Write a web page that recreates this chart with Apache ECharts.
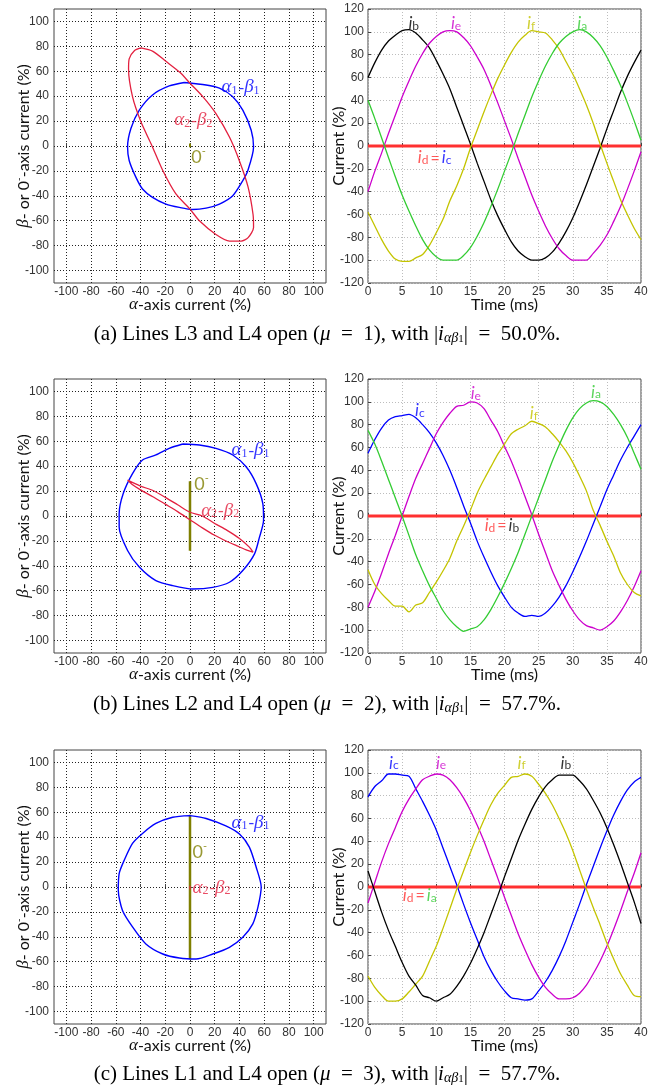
<!DOCTYPE html>
<html><head><meta charset="utf-8">
<script src="https://cdn.jsdelivr.net/npm/echarts@6/dist/echarts.min.js"></script>
<style>html,body{margin:0;padding:0;background:#fff}#c{width:654px;height:1088px}</style>
</head><body><div id="c"></div>
<script>
// ---------- tick labels ----------
const spaceTicks = [-100, -80, -60, -40, -20, 0, 20, 40, 60, 80, 100];
const timeMs = [0,1,2,3,4,5,6,7,8,9,10,11,12,13,14,15,16,17,18,19,20,21,22,23,24,25,26,27,28,29,30,31,32,33,34,35,36,37,38,39,40];

// ---------- (a) Lines L3 and L4 open ----------
const aAlpha1 = [-4.6, 13, 23.8, 34.6, 42.7, 49.5, 51.4, 46.8, 42.7, 34.6, 23.8, 13, 2.2, -8.6, -19.5, -30.3, -38.4, -43.8, -49.2, -50.5, -47.8, -41, -30.3, -16.8, -4.6];
const aBeta1  = [51, 49, 46.4, 39.6, 28.8, 12.7, -0.8, -19.7, -27.8, -39.9, -46.6, -49.9, -51, -49.3, -46.6, -41.2, -34.5, -25, -11.6, -0.8, 14, 28.8, 41, 48.2, 51];
const aAlpha2 = [-39.7, -30, -19.5, -8, 0, 10, 21, 32, 40, 47, 51, 51.4, 47, 41.4, 32, 21, 7.6, 0, -11.4, -22, -31.6, -39.7, -46.5, -49.7, -49.2, -45, -39.7];
const aBeta2  = [78.7, 76, 68, 59, 50.4, 40, 26, 7, -12, -33, -55, -65.5, -73.6, -76.3, -76.3, -71, -60, -50.7, -38.5, -19.7, 2, 19.4, 39.6, 62, 70, 76.5, 78.7];
const aZeroX = [0, 0];
const aZeroY = [-1, 2];
const aIb = [60,73,84,92,97,101,102,99,93,86,75,63,50,34,18,2,-15,-31,-47,-61,-73,-84,-92,-97,-100,-100,-98,-93,-85,-75,-63,-49,-34,-18,-2,15,31,47,61,73,84];
const aIe = [-40,-22,-6,11,27,43,57,70,81,90,96,100,101,100,95,88,78,67,53,38,22,6,-11,-27,-43,-57,-70,-81,-90,-96,-100,-100,-100,-94,-87,-78,-66,-53,-38,-22,-5];
const aIf = [-58,-70,-82,-92,-99,-101,-101,-98,-95,-87,-76,-64,-48,-35,-20,-2,14,30,45,59,71,82,91,97,101,100,99,93,85,74,63,50,36,20,2,-15,-31,-47,-60,-72,-82];
const aIa = [40,24,7,-10,-27,-43,-57,-70,-82,-91,-97,-100,-100,-100,-96,-89,-79,-67,-53,-38,-22,-6,11,27,43,57,70,81,90,96,100,102,100,95,88,78,66,53,38,22,5];

// ---------- (b) Lines L2 and L4 open ----------
const bAlpha1 = [-5.9, 7.6, 21, 34.6, 45.4, 53.5, 58.9, 59.5, 56.2, 52.2, 42.7, 31.9, 18.4, 2.2, -14, -27.6, -41, -50.5, -57.3, -57.3, -54, -46.5, -38.4, -27.6, -16.8, -5.9];
const bBeta1  = [57.8, 57, 54.3, 49, 39.5, 26, 10, -3.5, -17, -30.4, -43.8, -53.2, -57.3, -58.6, -55.9, -51.9, -41, -27.7, -8.9, 1.9, 18, 34, 45, 49, 54.3, 57.8];
const bAlpha2 = [-50.5, -40, -30, -20, -10, 0, 10, 20, 30, 40, 48, 51, 45, 38, 30, 20, 10, 0, -10, -20, -30, -40, -47, -50.5];
const bBeta2  = [28.8, 24, 20.5, 15, 9, 3, 0, -6, -11.5, -18, -25, -29, -27, -24, -20.5, -15.5, -9.5, -3, 3.5, 9.5, 15.5, 21, 25.5, 28.8];
const bZeroX = [0, 0];
const bZeroY = [-28, 28];
const bIc = [55,67,77,84,87,88,89,86,80,73,64,53,40,25,9,-6,-22,-36,-49,-61,-71,-80,-85,-88,-87,-88,-85,-79,-71,-61,-49,-36,-22,-7,8,23,36,49,60,70,80];
const bIe = [-80,-66,-50,-33,-17,0,17,33,46,59,72,82,90,96,97,100,99,94,84,74,61,48,33,17,1,-16,-32,-48,-61,-73,-83,-91,-96,-98,-100,-97,-92,-84,-74,-62,-48];
const bIf = [-47,-60,-68,-74,-79,-79,-84,-78,-76,-67,-58,-48,-37,-22,-9,5,20,32,43,54,63,72,76,79,83,81,78,72,65,57,47,35,22,5,-8,-22,-35,-50,-60,-67,-70];
const bIa = [75,63,48,32,16,0,-17,-34,-48,-61,-72,-83,-91,-97,-101,-99,-97,-91,-82,-71,-59,-46,-32,-16,0,16,32,48,62,75,86,94,99,101,100,96,89,80,69,55,41];

// ---------- (c) Lines L1 and L4 open ----------
const cAlpha1 = [0, 13, 29, 40, 48, 53.5, 57.6, 55, 50.8, 42.7, 31.9, 18.4, 4.9, -8.6, -22, -35.7, -46.5, -54.6, -58, -57.3, -53.2, -46.5, -38.4, -27.6, -14, 0];
const cBeta1  = [57.3, 55, 49, 42.5, 32, 16, 0, -16, -29.6, -40.3, -48.4, -53.8, -57.8, -57, -53.8, -45.7, -32, -18.8, -2.7, 10.8, 21.5, 35, 43, 51, 56, 57.3];
const cAlpha2 = [0, 0];
const cBeta2  = [-2, 1];
const cZeroX = [0, 0];
const cZeroY = [-58, 58];
const cIc = [79,88,93,99,99,98,97,86,75,63,50,34,18,2,-15,-31,-46,-61,-73,-83,-91,-97,-98,-99,-98,-91,-83,-73,-61,-47,-31,-15,2,18,34,49,63,75,85,92,96];
const cIe = [-14,4,22,38,52,66,77,86,94,97,99,98,94,87,78,67,54,40,24,8,-9,-25,-41,-55,-68,-79,-88,-94,-98,-98,-97,-93,-86,-76,-65,-52,-37,-21,-4,12,30];
const cIf = [-78,-88,-95,-100,-100,-98,-92,-85,-78,-65,-52,-36,-19,-2,14,30,45,59,72,82,89,96,97,99,97,90,82,72,60,47,32,15,-2,-18,-33,-49,-63,-76,-86,-95,-96];
const cIb = [14,-4,-22,-38,-52,-66,-78,-86,-95,-97,-100,-97,-94,-87,-78,-67,-54,-40,-24,-8,9,25,41,55,68,79,88,94,98,98,98,93,86,76,65,52,37,21,4,-13,-32];

// i_d is zero over the whole window
const idTime = [0, 40];
const idVal = [0, 0];

const captions = [
  '{r|(a) Lines L3 and L4 open (}{it|μ}{r|  =  1), with |}{it|i}{sub|αβ}{sub2|1}{r||  =  50.0%.}',
  '{r|(b) Lines L2 and L4 open (}{it|μ}{r|  =  2), with |}{it|i}{sub|αβ}{sub2|1}{r||  =  57.7%.}',
  '{r|(c) Lines L1 and L4 open (}{it|μ}{r|  =  3), with |}{it|i}{sub|αβ}{sub2|1}{r||  =  57.7%.}'
];

// ---------- styling ----------
const C = {blue:'#0000ff', magenta:'#cc00cc', yellow:'#c4c400', green:'#33cc33', black:'#000000',
           red:'#ff3030', crimson:'#e3203f', olive:'#7f7f00'};
const ROWS = [9, 379, 750];
const CAP_TOP = [321, 691, 1061];
const tickFont = {fontFamily:'Liberation Sans, Arial, sans-serif', fontSize:12, color:'#333'};
const nameRich = {
  n:{fontFamily:'Lato, sans-serif', fontSize:16, color:'#111', lineHeight:18, verticalAlign:'bottom'},
  g:{fontFamily:'Liberation Serif, serif', fontStyle:'italic', fontSize:17, color:'#111', lineHeight:18, verticalAlign:'bottom'},
  sup:{fontFamily:'Lato, sans-serif', fontSize:10, color:'#111', lineHeight:10, verticalAlign:'top'}
};
function tok(color){
  return [
    {fontFamily:'Lato, sans-serif', fontStyle:'italic', fontSize:17, lineHeight:18, verticalAlign:'bottom', color:color},
    {fontFamily:'Lato, sans-serif', fontSize:12, lineHeight:10, verticalAlign:'bottom', color:color}
  ];
}
const annRich = {};
[['K',C.black],['B',C.blue],['M',C.magenta],['Y',C.yellow],['G',C.green],['R',C.red]].forEach(([k,c])=>{
  const t = tok(c); annRich['i'+k]=t[0]; annRich['s'+k]=t[1];
  annRich['e'+k] = {fontFamily:'Lato, sans-serif', fontSize:16, lineHeight:18, verticalAlign:'bottom', color:c, padding:[0,2,0,2]};
});
function mathTok(color){
  return {
    m:{fontFamily:'Liberation Serif, serif', fontStyle:'italic', fontSize:19, lineHeight:20, verticalAlign:'bottom', color:color},
    d:{fontFamily:'Liberation Serif, serif', fontSize:17, lineHeight:20, verticalAlign:'bottom', color:color},
    s:{fontFamily:'Liberation Serif, serif', fontSize:12, lineHeight:10, verticalAlign:'bottom', color:color, padding:[0,1,0,0]}
  };
}
const zeroRich = {
  z:{fontFamily:'Lato, sans-serif', fontSize:18, lineHeight:20, verticalAlign:'bottom', color:C.olive},
  zs:{fontFamily:'Lato, sans-serif', fontSize:11, lineHeight:10, verticalAlign:'top', color:C.olive}
};

const grids=[], xAxes=[], yAxes=[], series=[];

function pairs(xs, ys){ return xs.map((x,i)=>[x, ys[i]]); }
function addLabel(gi, x, y, text, rich, align){
  series.push({type:'scatter', xAxisIndex:gi, yAxisIndex:gi, symbolSize:0, silent:true, z:20,
    data:[[x,y]], label:{show:true, position:'inside', align:align, verticalAlign:'middle',
      formatter:()=>text, rich:rich}});
}

function spacePanel(row, p){
  const gi = grids.length;
  grids.push({left:54, top:ROWS[row], width:272, height:274, show:true, borderColor:'#444', borderWidth:1});
  xAxes.push({gridIndex:gi, type:'value', min:-110, max:110,
    axisLine:{show:false},
    axisTick:{show:true, inside:true, length:3, customValues:spaceTicks, lineStyle:{color:'#444'}},
    axisLabel:Object.assign({customValues:spaceTicks, margin:3}, tickFont),
    splitLine:{show:true, lineStyle:{type:[1,2], color:'#222', width:1}},
    name:'{g|α}{n|-axis current (%)}', nameLocation:'middle', nameGap:12, nameMoveOverlap:false,
    nameTextStyle:{rich:nameRich}});
  yAxes.push({gridIndex:gi, type:'value', min:-110, max:110,
    axisLine:{show:false},
    axisTick:{show:true, inside:true, length:3, customValues:spaceTicks, lineStyle:{color:'#444'}},
    axisLabel:Object.assign({customValues:spaceTicks, margin:5}, tickFont),
    splitLine:{show:true, lineStyle:{type:[1,2], color:'#222', width:1}},
    name:'{g|β}{n|- or 0}{sup|-}{n|-axis current (%)}', nameLocation:'middle', nameGap:22, nameMoveOverlap:false,
    nameTextStyle:{rich:nameRich}});
  series.push({type:'line', xAxisIndex:gi, yAxisIndex:gi, data:pairs(p.zx,p.zy), showSymbol:false, silent:true,
    lineStyle:{color:C.olive, width:p.zw}, z:3});
  series.push({type:'line', xAxisIndex:gi, yAxisIndex:gi, data:pairs(p.a1,p.b1), showSymbol:false, silent:true, smooth:0.25,
    lineStyle:{color:C.blue, width:1.4}, z:4});
  series.push({type:'line', xAxisIndex:gi, yAxisIndex:gi, data:pairs(p.a2,p.b2), showSymbol:false, silent:true, smooth:0.25,
    lineStyle:{color:C.crimson, width:1.3}, z:4});
  const rb = mathTok(C.blue), rr = mathTok(C.crimson);
  addLabel(gi, p.l1[0], p.l1[1], '{m|α}{s|1}{d|-}{m|β}{s|1}', rb, 'left');
  addLabel(gi, p.l2[0], p.l2[1], '{m|α}{s|2}{d|-}{m|β}{s|2}', rr, 'left');
  addLabel(gi, p.l0[0], p.l0[1], '{z|0}{zs|-}', zeroRich, 'left');
}

function timePanel(row, p){
  const gi = grids.length;
  grids.push({left:368, top:ROWS[row], width:273, height:274, show:true, borderColor:'#444', borderWidth:1});
  xAxes.push({gridIndex:gi, type:'value', min:0, max:40, interval:5,
    axisLine:{show:false},
    axisTick:{show:true, inside:true, length:3, lineStyle:{color:'#444'}},
    axisLabel:Object.assign({margin:3}, tickFont),
    splitLine:{show:true, lineStyle:{type:[1,2], color:'#bdbdbd', width:1}},
    name:'{n|Time (ms)}', nameLocation:'middle', nameGap:12, nameMoveOverlap:false, nameTextStyle:{rich:nameRich}});
  yAxes.push({gridIndex:gi, type:'value', min:-120, max:120, interval:20,
    axisLine:{show:false},
    axisTick:{show:true, inside:true, length:3, lineStyle:{color:'#444'}},
    axisLabel:Object.assign({margin:4}, tickFont),
    splitLine:{show:true, lineStyle:{type:[1,2], color:'#bdbdbd', width:1}},
    name:'{n|Current (%)}', nameLocation:'middle', nameGap:21, nameMoveOverlap:false, nameTextStyle:{rich:nameRich}});
  series.push({type:'line', xAxisIndex:gi, yAxisIndex:gi, data:pairs(idTime,idVal), showSymbol:false, silent:true,
    lineStyle:{color:C.red, width:3}, z:2});
  p.curves.forEach(cv=>{
    series.push({type:'line', xAxisIndex:gi, yAxisIndex:gi, data:pairs(timeMs, cv.v), showSymbol:false, silent:true,
      smooth:0.3, lineStyle:{color:cv.c, width:1.3}, z:3});
  });
  p.labels.forEach(l=>addLabel(gi, l[0], l[1], l[2], annRich, l[3]));
}

spacePanel(0, {a1:aAlpha1, b1:aBeta1, a2:aAlpha2, b2:aBeta2, zx:aZeroX, zy:aZeroY, zw:2,
  l1:[25.5,47.5], l2:[-12.7,21], l0:[1,-8]});
timePanel(0, {curves:[{v:aIb,c:C.black},{v:aIe,c:C.magenta},{v:aIf,c:C.yellow},{v:aIa,c:C.green}],
  labels:[[6.7,108,'{iK|i}{sK|b}','center'],[12.9,108,'{iM|i}{sM|e}','center'],[23.9,108,'{iY|i}{sY|f}','center'],
          [31.4,108,'{iG|i}{sG|a}','center'],[7.3,-10,'{iR|i}{sR|d}{eR|=}{iB|i}{sB|c}','left']]});
spacePanel(1, {a1:bAlpha1, b1:bBeta1, a2:bAlpha2, b2:bBeta2, zx:bZeroX, zy:bZeroY, zw:2.5,
  l1:[33.5,53], l2:[9,4.6], l0:[3.5,26.4]});
timePanel(1, {curves:[{v:bIc,c:C.blue},{v:bIe,c:C.magenta},{v:bIf,c:C.yellow},{v:bIa,c:C.green}],
  labels:[[7.6,93,'{iB|i}{sB|c}','center'],[15.8,108,'{iM|i}{sM|e}','center'],[24.3,90,'{iY|i}{sY|f}','center'],
          [33.4,109,'{iG|i}{sG|a}','center'],[17.1,-8,'{iR|i}{sR|d}{eR|=}{iK|i}{sK|b}','left']]});
spacePanel(2, {a1:cAlpha1, b1:cBeta1, a2:cAlpha2, b2:cBeta2, zx:cZeroX, zy:cZeroY, zw:2.5,
  l1:[33.5,52], l2:[2,0], l0:[2,29]});
timePanel(2, {curves:[{v:cIc,c:C.blue},{v:cIe,c:C.magenta},{v:cIf,c:C.yellow},{v:cIb,c:C.black}],
  labels:[[3.8,109,'{iB|i}{sB|c}','center'],[10.7,109,'{iM|i}{sM|e}','center'],[22.5,109,'{iY|i}{sY|f}','center'],
          [29,109,'{iK|i}{sK|b}','center'],[5.1,-7,'{iR|i}{sR|d}{eR|=}{iG|i}{sG|a}','left']]});

const capRich = {
  r:{fontFamily:'Liberation Serif, serif', fontSize:21, color:'#000', lineHeight:24, verticalAlign:'bottom'},
  it:{fontFamily:'Liberation Serif, serif', fontStyle:'italic', fontSize:21, color:'#000', lineHeight:24, verticalAlign:'bottom'},
  sub:{fontFamily:'Liberation Serif, serif', fontStyle:'italic', fontSize:14, color:'#000', lineHeight:15, verticalAlign:'bottom'},
  sub2:{fontFamily:'Liberation Serif, serif', fontSize:11, color:'#000', lineHeight:8, verticalAlign:'bottom'}
};

const chart = echarts.init(document.getElementById('c'), null, {renderer:'canvas'});
chart.setOption({
  animation:false,
  backgroundColor:'#fff',
  title: captions.map((t,k)=>({text:t, left:'center', top:CAP_TOP[k], padding:0,
    textStyle:{fontWeight:'normal', rich:capRich}})),
  grid:grids, xAxis:xAxes, yAxis:yAxes, series:series
});
</script></body></html>
